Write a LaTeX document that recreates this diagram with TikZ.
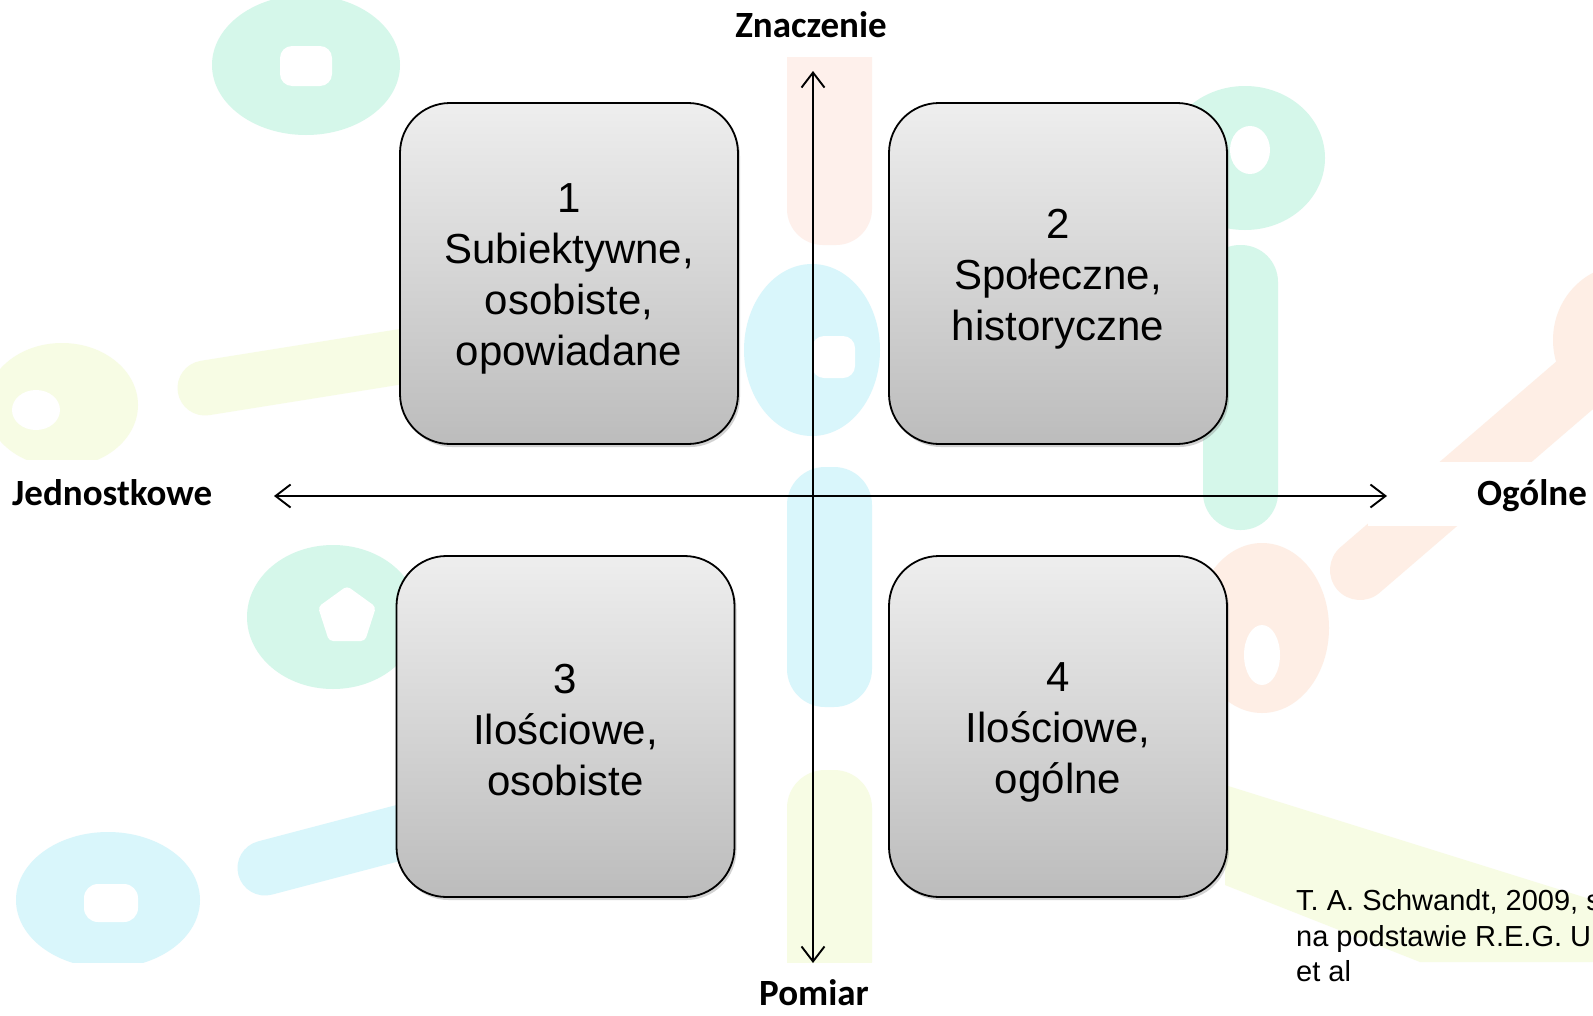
\documentclass[tikz,border=0pt]{standalone}
\usepackage{fontspec}
\setmainfont{Liberation Sans}
\newfontfamily\calib{Carlito}
\usetikzlibrary{arrows.meta,shadows}
\definecolor{mint}{RGB}{213,247,234}
\definecolor{skyc}{RGB}{217,246,251}
\definecolor{yelg}{RGB}{247,252,228}
\definecolor{pinkc}{RGB}{254,240,235}
\definecolor{orac}{RGB}{254,238,229}
\definecolor{boxtop}{RGB}{238,238,238}
\definecolor{boxbot}{RGB}{188,188,188}
\tikzset{
  quad/.style={draw=black, line width=1.8pt, rounded corners=50pt,
    minimum width=338pt, minimum height=341pt, inner sep=0pt,
    top color=boxtop, bottom color=boxbot,
    drop shadow={shadow xshift=2pt,shadow yshift=-3pt,opacity=0.35}},
  qtext/.style={align=center, inner sep=0pt,
    font=\fontsize{42}{51}\selectfont},
  axis/.style={line width=1.9pt,
    arrows={Straight Barb[length=15pt,width=23pt]-Straight Barb[length=15pt,width=23pt]}},
  lbl/.style={font=\calib\bfseries\fontsize{37}{40}\selectfont, inner sep=0pt},
  cite/.style={font=\fontsize{29}{35.6}\selectfont, anchor=base west, inner sep=0pt}
}
\begin{document}
\begin{tikzpicture}[x=1pt,y=-1pt]
\fill[white] (0,0) rectangle (1593,1015);
\useasboundingbox (0,0) rectangle (1593,1015);
% faint background pattern
\begin{scope}
\clip (0,0) rectangle (1593,962);
% top-left green ring
\fill[mint] (306,65) ellipse (94 and 70);
\fill[white, rounded corners=12pt] (280,46) -- (332,46) -- (332,86) -- (280,86) -- cycle;
% left yellow blob and bar
\fill[yelg] (62,405) ellipse (76 and 62);
\fill[white] (36,410) ellipse (24 and 20);
\draw[yelg, line width=55pt, line cap=round] (205,388) -- (430,352);
% centre column
\fill[pinkc, rounded corners=36pt] (787,20) rectangle (872,245);
\fill[white] (780,0) rectangle (880,57);
\fill[skyc] (812,350) ellipse (68 and 86);
\fill[white, rounded corners=12pt] (812,336) rectangle (855,378);
\fill[skyc, rounded corners=38pt] (787,467) rectangle (872,707);
\fill[yelg, rounded corners=38pt] (787,770) rectangle (872,1000);
% right green ring and bar
\fill[mint] (1245,158) ellipse (80 and 72);
\fill[white] (1250,150) ellipse (20 and 24);
\fill[mint, rounded corners=37pt] (1203,245) rectangle (1278,530);
% right orange shapes
\fill[orac] (1625,340) ellipse (72 and 75);
\draw[orac, line width=60pt, line cap=round] (1360,570) -- (1575,385);
\fill[orac] (1262,628) ellipse (67 and 85);
\fill[white] (1262,655) ellipse (18 and 30);
% lower-left green ring with pentagon hole
\fill[mint] (333,617) ellipse (86 and 72);
\fill[white, rounded corners=4pt] (347,586) -- (376,607) -- (365,641) -- (329,641) -- (318,607) -- cycle;
% bottom-left cyan ring and bar
\fill[skyc] (108,900) ellipse (92 and 68);
\fill[white, rounded corners=14pt] (84,884) rectangle (138,922);
\draw[skyc, line width=55pt, line cap=round] (265,868) -- (440,822);
% lower-right yellow band
\fill[yelg] (1225,785) -- (1593,900) -- (1593,962) -- (1420,962) -- (1225,885) -- cycle;
% white label backgrounds
\fill[white] (0,460) rectangle (260,530);
\fill[white] (1368,462) rectangle (1593,526);
\end{scope}
% quadrant boxes
\node[quad] (b1) at (569,273.5) {};
\node[quad] (b2) at (1058,273.5) {};
\node[quad] (b3) at (565.5,726.5) {};
\node[quad] (b4) at (1058,726.5) {};
\node[qtext] (t1) at ([yshift=-5pt]b1.center) {1\\Subiektywne,\\osobiste,\\opowiadane};
\node[qtext] (t2) at ([yshift=-6pt]b2.center) {2\\Społeczne,\\historyczne};
\node[qtext] (t3) at ([yshift=-4pt]b3.center) {3\\Ilościowe,\\osobiste};
\node[qtext] (t4) at ([yshift=-6pt]b4.center) {4\\Ilościowe,\\ogólne};
% axes
\coordinate (vt) at (813,71);
\coordinate (vb) at (813,963);
\coordinate (hl) at (274,496);
\coordinate (hr) at (1387,496);
\draw[axis] (vb) -- (vt);
\draw[axis] (hl) -- (hr);
% axis labels
\node[lbl, anchor=base] (zn) at (811,37) {Znaczenie};
\node[lbl, anchor=base] (pm) at (814,1005) {Pomiar};
\node[lbl, anchor=base west] (jd) at (12,505) {Jednostkowe};
\node[lbl, anchor=base west] (og) at (1477,505) {Ogólne};
% citation
\node[cite] (c1) at (1296,910) {T. A. Schwandt, 2009, s};
\node[cite] (c2) at (1296,946) {na podstawie R.E.G. U};
\node[cite] (c3) at (1296,981) {et al};
\end{tikzpicture}
\end{document}
